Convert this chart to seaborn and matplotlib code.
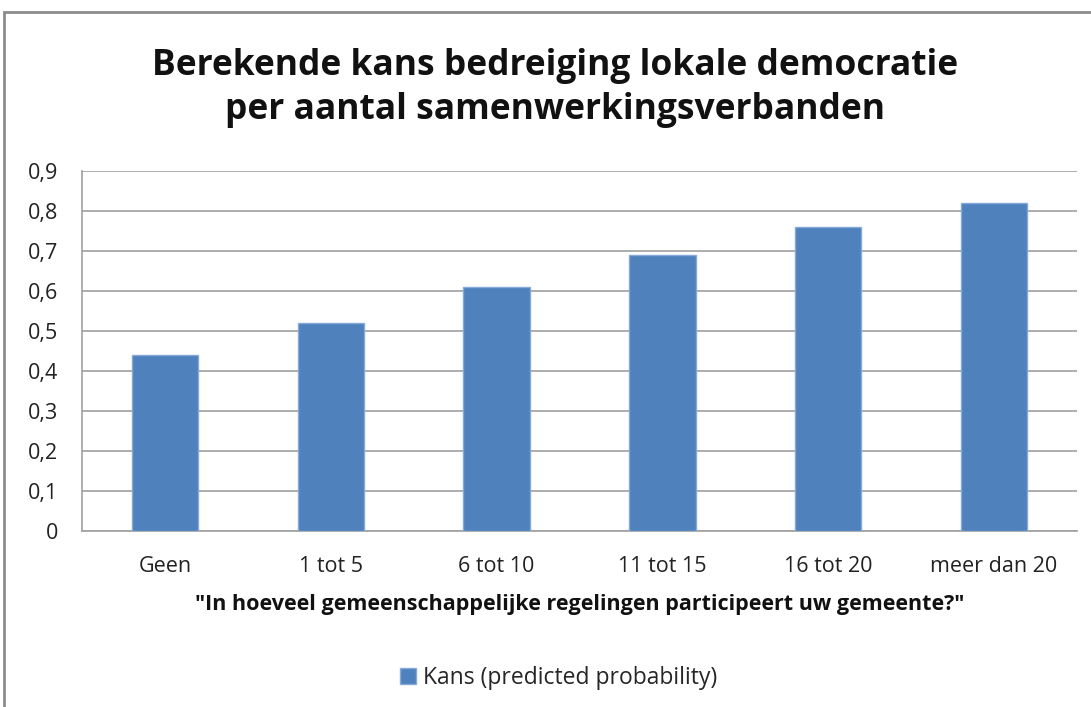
import matplotlib
matplotlib.use("Agg")
import matplotlib.pyplot as plt
import seaborn as sns
import pandas as pd
from matplotlib.patches import Rectangle

categories = ["Geen", "1 tot 5", "6 tot 10", "11 tot 15", "16 tot 20", "meer dan 20"]
values = [0.44, 0.52, 0.61, 0.69, 0.76, 0.82]
yticks = [0, 0.1, 0.2, 0.3, 0.4, 0.5, 0.6, 0.7, 0.8, 0.9]
ytick_labels = ["0", "0,1", "0,2", "0,3", "0,4", "0,5", "0,6", "0,7", "0,8", "0,9"]
series_name = "Kans (predicted probability)"
title = "Berekende kans bedreiging lokale democratie\nper aantal samenwerkingsverbanden"
xlabel = '"In hoeveel gemeenschappelijke regelingen participeert uw gemeente?"'

sns.set_theme(style="white")
plt.rcParams['font.family'] = ['Open Sans', 'DejaVu Sans']

df = pd.DataFrame({"cat": categories, "val": values, "series": series_name})

fig = plt.figure(figsize=(10.91, 7.07), dpi=100)
ax = fig.add_axes([82/1091, 1-531/707, (1077-82)/1091, (531-171)/707])

sns.barplot(data=df, x="cat", y="val", hue="series", palette=["#4F81BD"],
            saturation=1, width=0.4, edgecolor="#86AAD8", linewidth=1,
            ax=ax, legend=False, zorder=3)

ax.set_ylim(0, 0.9)
ax.set_yticks(yticks)
ax.set_yticklabels(ytick_labels, fontsize=15.5, color="#222222")
ax.tick_params(axis='x', labelsize=15.5, colors="#222222", pad=18, length=0)
ax.tick_params(axis='y', pad=17, length=0)
ax.yaxis.grid(True, color="#A0A0A0", linewidth=1.2, zorder=0)
ax.set_axisbelow(True)
for s in ["top", "right"]:
    ax.spines[s].set_visible(False)
ax.spines["left"].set_color("#A0A0A0")
ax.spines["bottom"].set_color("#A0A0A0")
ax.spines["left"].set_linewidth(1.2)
ax.spines["bottom"].set_linewidth(1.2)
ax.set_xlabel(xlabel, fontsize=15.5, fontweight="bold", labelpad=12, color="#111111")
ax.set_ylabel("")

fig.text(0.509, 1-88/707, title, ha="center", va="center", fontsize=25.5,
         fontweight="bold", linespacing=1.3, color="#111111")

handle = Rectangle((0, 0), 1, 1, facecolor="#4F81BD", edgecolor="#86AAD8")
fig.legend([handle], [series_name], loc="center", bbox_to_anchor=(0.512, 1-678/707),
           frameon=False, fontsize=16.5, handlelength=0.7, handleheight=0.7, handletextpad=0.3)

border = Rectangle((4/1091, -0.1), 1.2, 1-12/707 + 0.1, transform=fig.transFigure,
                   fill=False, edgecolor="#8C8C8C", linewidth=2, clip_on=False)
fig.add_artist(border)

fig.savefig("out.png", dpi=100, facecolor="white")
